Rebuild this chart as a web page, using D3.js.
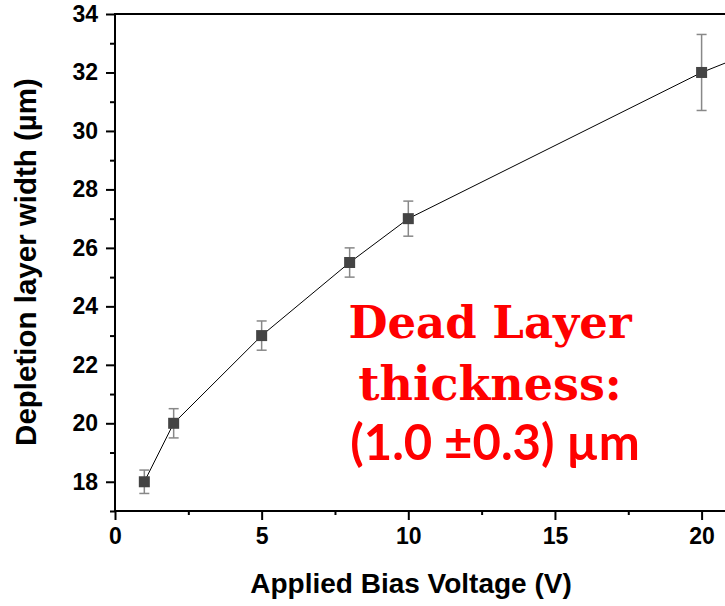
<!DOCTYPE html>
<html>
<head>
<meta charset="utf-8">
<script src="https://cdn.jsdelivr.net/npm/d3@7/dist/d3.min.js"></script>
<style>
  html, body { margin: 0; padding: 0; background: #fff; }
  svg { display: block; }
</style>
</head>
<body>
<svg id="chart" width="725" height="606"></svg>
<script>
// Applied bias (V) and measured depletion layer width (µm) with uncertainties
const voltages = [1, 2, 5, 8, 10, 20, 30];
const widths   = [18, 20, 23, 25.5, 27, 32, 36];
const errors   = [0.4, 0.5, 0.5, 0.5, 0.6, 1.3, 1.5];

const xTicks = [0, 5, 10, 15, 20];
const yTicks = [18, 20, 22, 24, 26, 28, 30, 32, 34];

const svg = d3.select("#chart");
const plotLeft = 115, plotTop = 14, plotBottom = 511;

const x = d3.scaleLinear().domain([0, 30]).range([plotLeft, plotLeft + 30 * 29.33]);
const y = d3.scaleLinear().domain([17, 34]).range([plotBottom, plotTop]);

const font = "'Liberation Sans', Arial, sans-serif";

// Plot clip so the trace ends at the frame
svg.append("defs").append("clipPath").attr("id", "plot")
  .append("rect").attr("x", plotLeft).attr("y", plotTop).attr("width", 2000).attr("height", plotBottom - plotTop);

// Axes
const xMinor = d3.range(2.5, 21, 5);
const yMinor = d3.range(17, 34, 2);

const gx = svg.append("g").attr("transform", `translate(0,${plotBottom})`);
gx.call(d3.axisBottom(x).tickValues(xMinor).tickSize(4).tickFormat(""));
gx.call(g => g.select(".domain").remove());
const gx2 = svg.append("g").attr("transform", `translate(0,${plotBottom})`)
  .call(d3.axisBottom(x).tickValues(xTicks).tickSize(9).tickPadding(8).tickFormat(d3.format("d")));
gx2.select(".domain").attr("stroke-width", 2).attr("d", `M${plotLeft},0H725`);

const gy = svg.append("g").attr("transform", `translate(${plotLeft},0)`);
gy.call(d3.axisLeft(y).tickValues(yMinor).tickSize(5).tickFormat(""));
gy.call(g => g.select(".domain").remove());
const gy2 = svg.append("g").attr("transform", `translate(${plotLeft},0)`)
  .call(d3.axisLeft(y).tickValues(yTicks).tickSize(9).tickPadding(8).tickFormat(d3.format("d")));
gy2.select(".domain").attr("stroke-width", 2).attr("d", `M0,${plotBottom}V${plotTop}`);

svg.selectAll(".tick line").attr("stroke", "#000").attr("stroke-width", 2);
svg.selectAll(".tick text")
  .attr("font-family", font).attr("font-weight", "bold").attr("font-size", 23).attr("fill", "#000");

// Top frame line
svg.append("line").attr("x1", plotLeft - 1).attr("x2", 725).attr("y1", plotTop).attr("y2", plotTop)
  .attr("stroke", "#000").attr("stroke-width", 2);

// Data trace
const plot = svg.append("g").attr("clip-path", "url(#plot)");
const pts = voltages.map((v, i) => ({ v, w: widths[i], e: errors[i] }));

plot.append("path").datum(pts)
  .attr("fill", "none").attr("stroke", "#000").attr("stroke-width", 1)
  .attr("d", d3.line().x(d => x(d.v)).y(d => y(d.w)));

const eb = plot.selectAll("g.err").data(pts).join("g").attr("class", "err")
  .attr("stroke", "#888").attr("stroke-width", 1.5);
eb.append("line").attr("x1", d => x(d.v)).attr("x2", d => x(d.v))
  .attr("y1", d => y(d.w + d.e)).attr("y2", d => y(d.w - d.e));
eb.append("line").attr("x1", d => x(d.v) - 5).attr("x2", d => x(d.v) + 5)
  .attr("y1", d => y(d.w + d.e)).attr("y2", d => y(d.w + d.e));
eb.append("line").attr("x1", d => x(d.v) - 5).attr("x2", d => x(d.v) + 5)
  .attr("y1", d => y(d.w - d.e)).attr("y2", d => y(d.w - d.e));

plot.selectAll("rect.pt").data(pts).join("rect").attr("class", "pt")
  .attr("x", d => x(d.v) - 5.5).attr("y", d => y(d.w) - 5.5)
  .attr("width", 11).attr("height", 11).attr("fill", "#444");

// Axis titles
svg.append("text").attr("x", 411).attr("y", 593).attr("text-anchor", "middle")
  .attr("font-family", font).attr("font-weight", "bold").attr("font-size", 28)
  .text("Applied Bias Voltage (V)");
svg.append("text").attr("transform", "translate(36,262) rotate(-90)").attr("text-anchor", "middle")
  .attr("font-family", font).attr("font-weight", "bold").attr("font-size", 29.5)
  .text("Depletion layer width (µm)");

// Annotation
const note = svg.append("g").attr("fill", "#ff0000").attr("font-weight", "bold").attr("text-anchor", "middle");
note.append("text").attr("x", 490).attr("y", 338)
  .attr("font-family", "'DejaVu Serif', 'Liberation Serif', serif").attr("font-size", 45)
  .text("Dead Layer");
note.append("text").attr("x", 490).attr("y", 400)
  .attr("font-family", "'DejaVu Serif', 'Liberation Serif', serif").attr("font-size", 46)
  .text("thickness:");
note.append("text").attr("x", 495).attr("y", 460)
  .attr("font-family", "Lato, 'Open Sans', sans-serif").attr("font-size", 49)
  .text("(1.0 ±0.3) µm");
</script>
</body>
</html>
